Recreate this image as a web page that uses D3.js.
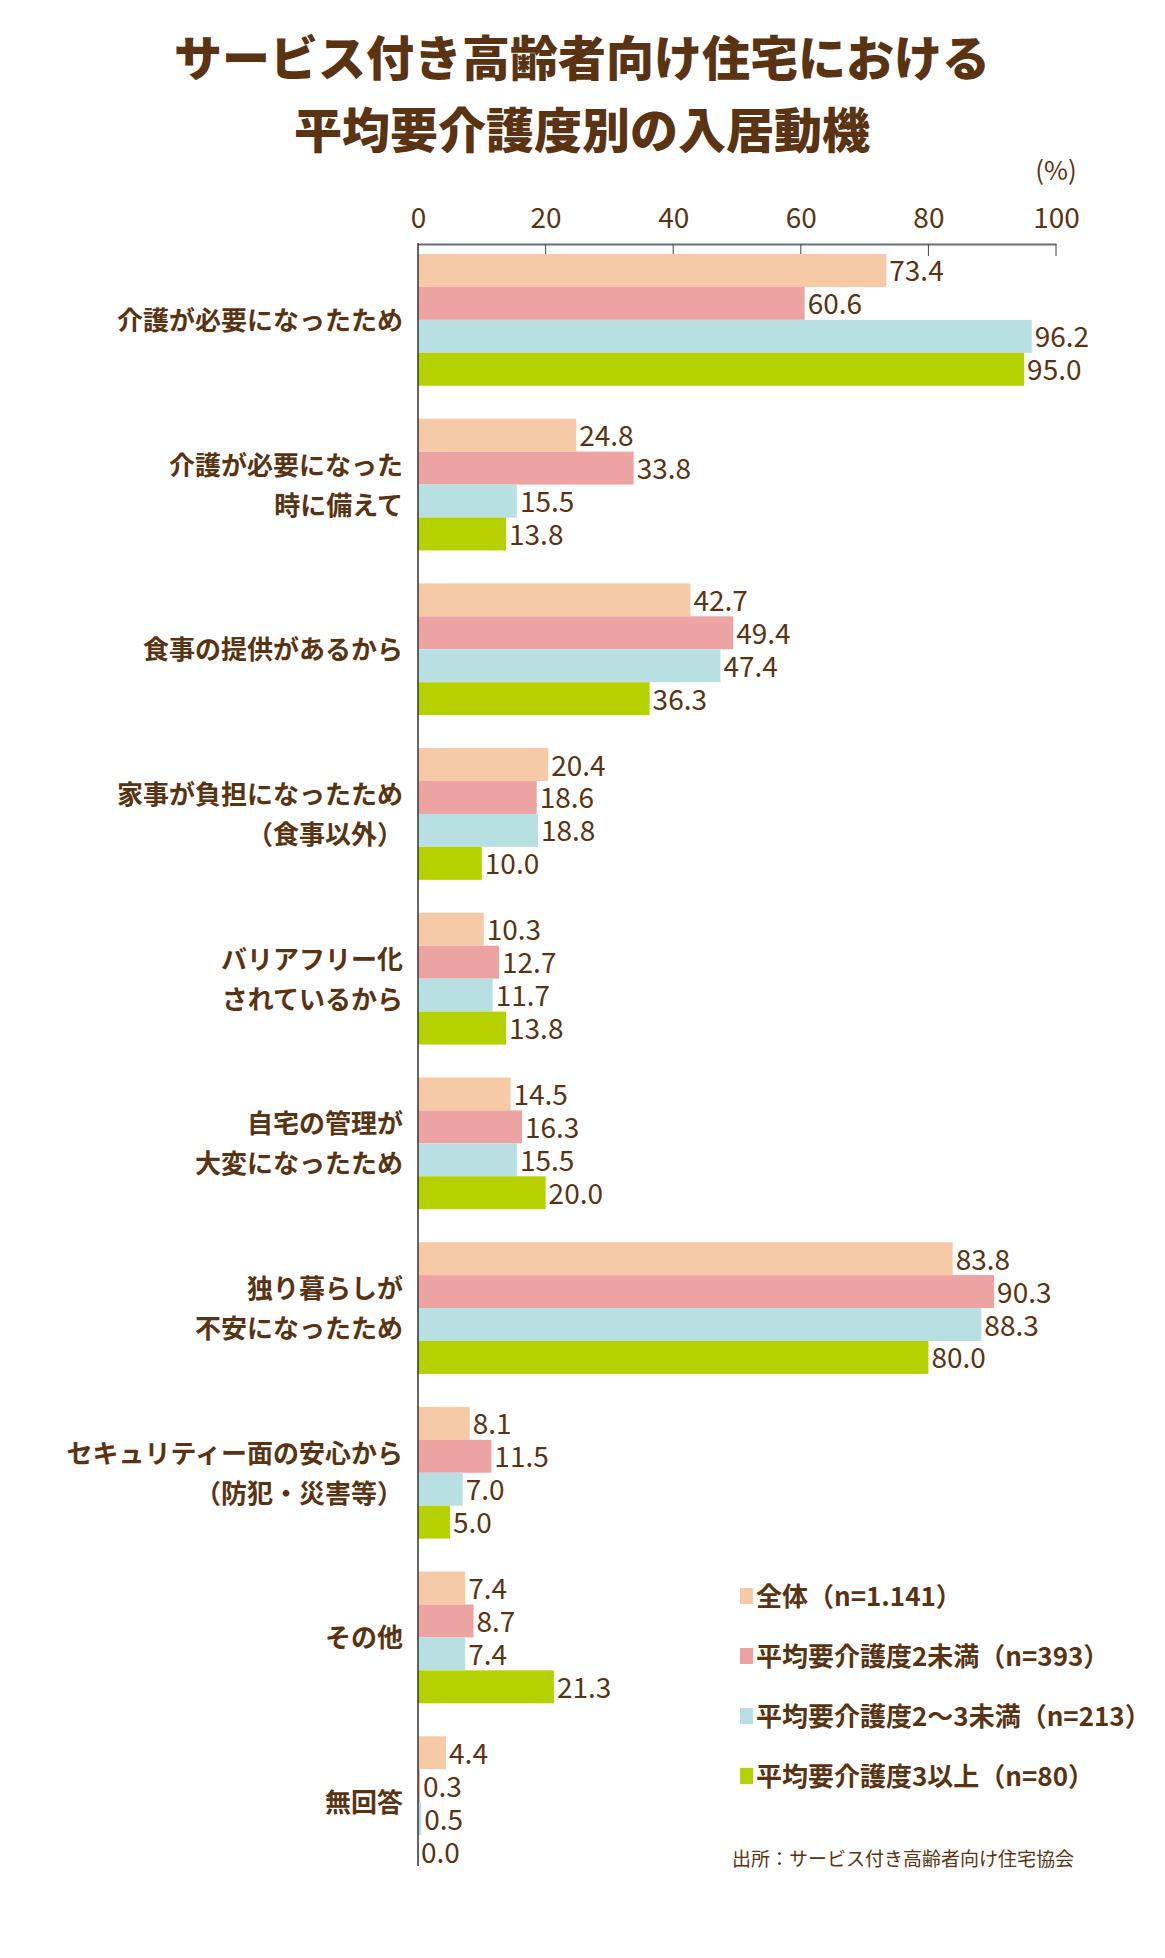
<!DOCTYPE html><html><head><meta charset="utf-8"><script src="https://d3js.org/d3.v7.min.js"></script>
<style>body{margin:0;background:#fff}</style></head><body><script>
const categories=[["介護が必要になったため"],["介護が必要になった","時に備えて"],["食事の提供があるから"],["家事が負担になったため","（食事以外）"],["バリアフリー化","されているから"],["自宅の管理が","大変になったため"],["独り暮らしが","不安になったため"],["セキュリティー面の安心から","（防犯・災害等）"],["その他"],["無回答"]];
const seriesNames=["全体（n=1.141）","平均要介護度2未満（n=393）","平均要介護度2～3未満（n=213）","平均要介護度3以上（n=80）"];
const sAll=[73.4,24.8,42.7,20.4,10.3,14.5,83.8,8.1,7.4,4.4];
const sLt2=[60.6,33.8,49.4,18.6,12.7,16.3,90.3,11.5,8.7,0.3];
const s2to3=[96.2,15.5,47.4,18.8,11.7,15.5,88.3,7.0,7.4,0.5];
const s3up=[95.0,13.8,36.3,10.0,13.8,20.0,80.0,5.0,21.3,0.0];
const tickValues=[0,20,40,60,80,100];
const colors=["#f6caa6","#eda3a1","#b8e0e3","#b6d100"];
const series=[sAll,sLt2,s2to3,s3up];
const W=1165,H=1958,brown="#5a3412",font="'Noto Sans CJK JP',sans-serif";
const svg=d3.select("body").append("svg").attr("width",W).attr("height",H).style("font-family",font);
svg.append("text").attr("x",582).attr("y",76).attr("text-anchor","middle").attr("font-size",48).attr("font-weight",900).attr("fill",brown).text("サービス付き高齢者向け住宅における");
svg.append("text").attr("x",582).attr("y",148).attr("text-anchor","middle").attr("font-size",48).attr("font-weight",900).attr("fill",brown).text("平均要介護度別の入居動機");
const x=d3.scaleLinear().domain([0,100]).range([418,1056]);
const y=d3.scaleBand().domain(d3.range(categories.length)).range([254,1868]).paddingInner(0.2).paddingOuter(0);
const yi=d3.scaleBand().domain(d3.range(4)).range([0,y.bandwidth()]);
const ax=svg.append("g").attr("transform","translate(0,244)").call(d3.axisTop(x).tickValues(tickValues).tickSize(0).tickPadding(16));
ax.select(".domain").attr("stroke","#6b6e78").attr("stroke-width",2);
ax.selectAll("text").attr("font-size",28).attr("fill",brown).attr("font-family",font);
svg.append("g").selectAll("line").data(tickValues.slice(1)).join("line").attr("x1",d=>x(d)).attr("x2",d=>x(d)).attr("y1",244).attr("y2",256).attr("stroke","#444");
svg.append("text").attr("x",1056).attr("y",180).attr("text-anchor","middle").attr("font-size",26).attr("fill",brown).text("(%)");
const g=svg.append("g");
categories.forEach((c,i)=>{
  series.forEach((s,j)=>{
    const yy=y(i)+yi(j);
    g.append("rect").attr("x",x(0)).attr("y",yy).attr("width",x(s[i])-x(0)).attr("height",yi.bandwidth()).attr("fill",colors[j]);
    g.append("text").attr("x",x(s[i])+3).attr("y",yy+yi.bandwidth()/2+11).attr("font-size",28).attr("fill",brown).text(s[i].toFixed(1));
  });
  const cy=y(i)+y.bandwidth()/2;
  c.forEach((l,k)=>svg.append("text").attr("x",403).attr("y",cy+10+(k-(c.length-1)/2)*40).attr("text-anchor","end").attr("font-size",26).attr("font-weight",700).attr("fill",brown).text(l));
});
svg.append("line").attr("x1",x(0)).attr("x2",x(0)).attr("y1",243).attr("y2",1866).attr("stroke","#333").attr("stroke-width",1.5);
seriesNames.forEach((n,j)=>{
  const ly=1596+j*60;
  svg.append("rect").attr("x",740).attr("y",ly-8).attr("width",13).attr("height",16).attr("fill",colors[j]);
  svg.append("text").attr("x",756).attr("y",ly+10).attr("font-size",26).attr("font-weight",700).attr("fill",brown).text(n);
});
svg.append("text").attr("x",732).attr("y",1866).attr("font-size",19).attr("fill",brown).text("出所：サービス付き高齢者向け住宅協会");
</script></body></html>
